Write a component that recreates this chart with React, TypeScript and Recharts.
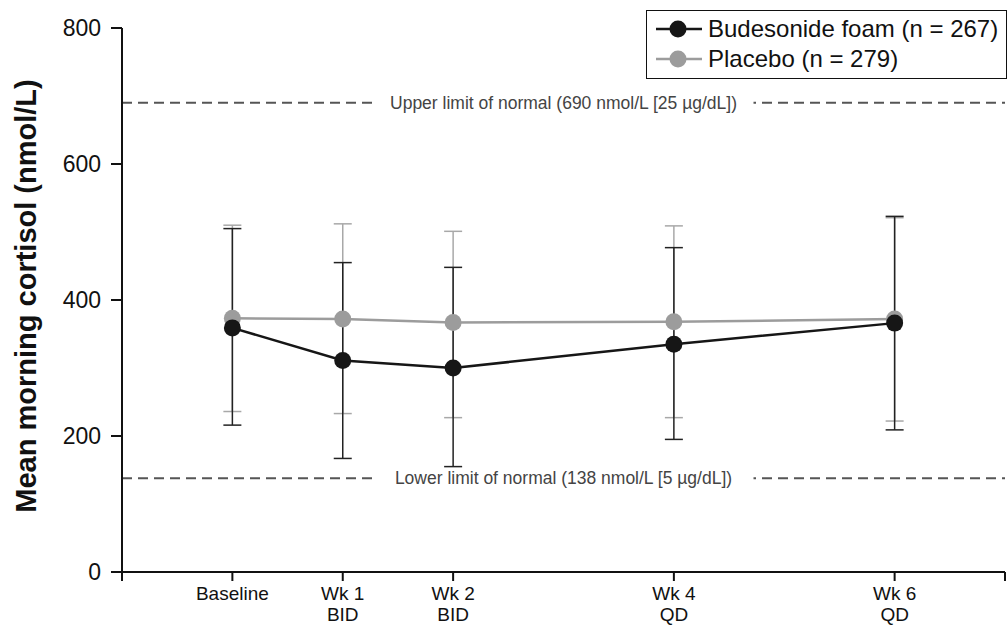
import { LineChart, Line, XAxis, YAxis, ReferenceLine, ErrorBar, Legend } from 'recharts';

const weeks = [0, 1, 2, 4, 6];
const weekLabels = ['Baseline', 'Wk 1', 'Wk 2', 'Wk 4', 'Wk 6'];
const doseLabels = ['', 'BID', 'BID', 'QD', 'QD'];

const budesonideMean = [359, 311, 300, 335, 366];
const budesonideUpper = [505, 455, 448, 477, 523];
const budesonideLower = [216, 167, 155, 195, 209];

const placeboMean = [373, 372, 367, 368, 372];
const placeboUpper = [510, 512, 501, 509, 521];
const placeboLower = [236, 233, 227, 227, 222];

const yTicks = [0, 200, 400, 600, 800];
const xTicks = [-1, 0, 1, 2, 4, 6, 7];

const upperLimit = 690;
const lowerLimit = 138;

const chartData = weeks.map((week, i) => ({
  week,
  budesonide: budesonideMean[i],
  budesonideErr: [budesonideMean[i] - budesonideLower[i], budesonideUpper[i] - budesonideMean[i]],
  placebo: placeboMean[i],
  placeboErr: [placeboMean[i] - placeboLower[i], placeboUpper[i] - placeboMean[i]],
}));

const FONT = '"Liberation Sans", Arial, sans-serif';

const XTick = ({ x, y, payload }: any) => {
  const idx = weeks.indexOf(payload.value);
  if (idx < 0) return null;
  return (
    <g>
      <text x={x} y={y + 17} textAnchor="middle" fontSize={19} fontFamily={FONT} fill="#111">
        {weekLabels[idx]}
      </text>
      {doseLabels[idx] && (
        <text x={x} y={y + 38} textAnchor="middle" fontSize={19} fontFamily={FONT} fill="#111">
          {doseLabels[idx]}
        </text>
      )}
    </g>
  );
};

const YLabel = ({ viewBox }: any) => {
  const cy = viewBox.y + viewBox.height / 2 - 4;
  return (
    <text
      x={26}
      y={cy}
      transform={`rotate(-90, 26, ${cy})`}
      textAnchor="middle"
      dominantBaseline="central"
      fontSize={29}
      fontWeight="bold"
      fontFamily={FONT}
      fill="#111"
    >
      Mean morning cortisol (nmol/L)
    </text>
  );
};

const LimitLabel = ({ viewBox, text }: any) => {
  const cx = viewBox.x + viewBox.width / 2;
  const cy = viewBox.y;
  return (
    <g>
      <rect x={cx - 190} y={cy - 11} width={380} height={22} fill="#fff" />
      <text x={cx} y={cy} textAnchor="middle" dominantBaseline="central" fontSize={17.5} fontFamily={FONT} fill="#444">
        {text}
      </text>
    </g>
  );
};

const legendItems = [
  { name: 'Budesonide foam (n = 267)', color: '#161616' },
  { name: 'Placebo (n = 279)', color: '#9c9c9c' },
];

const CustomLegend = () => (
  <div
    style={{
      border: '1.5px solid #111',
      padding: '3px 0 4px 9px',
      background: '#fff',
      fontFamily: FONT,
      fontSize: 24,
      color: '#111',
    }}
  >
    {legendItems.map((item) => (
      <div key={item.name} style={{ display: 'flex', alignItems: 'center', height: 30 }}>
        <svg width={46} height={20} style={{ marginRight: 6 }}>
          <line x1={0} y1={10} x2={46} y2={10} stroke={item.color} strokeWidth={2.5} />
          <circle cx={22} cy={10} r={8.5} fill={item.color} />
        </svg>
        <span>{item.name}</span>
      </div>
    ))}
  </div>
);

export default function App() {
  return (
    <div style={{ position: 'absolute', left: 0, top: 0, width: 1007, height: 633, background: '#fff' }}>
      <LineChart width={1007} height={633} data={chartData} margin={{ top: 28, right: 2, left: 0, bottom: 0 }}>
        <XAxis
          dataKey="week"
          type="number"
          domain={[-1, 7]}
          ticks={xTicks}
          interval={0}
          height={61}
          stroke="#111"
          strokeWidth={2}
          tickSize={9}
          tick={<XTick />}
        />
        <YAxis
          type="number"
          domain={[0, 800]}
          ticks={yTicks}
          width={122}
          stroke="#111"
          strokeWidth={2}
          tickSize={11}
          tickMargin={10}
          tick={{ fontSize: 23, fontFamily: FONT, fill: '#111' }}
          label={<YLabel />}
        />
        <ReferenceLine
          y={upperLimit}
          stroke="#555"
          strokeWidth={2}
          strokeDasharray="10 6"
          label={<LimitLabel text="Upper limit of normal (690 nmol/L [25 µg/dL])" />}
        />
        <ReferenceLine
          y={lowerLimit}
          stroke="#555"
          strokeWidth={2}
          strokeDasharray="10 6"
          label={<LimitLabel text="Lower limit of normal (138 nmol/L [5 µg/dL])" />}
        />
        <Line
          dataKey="placebo"
          stroke="#9c9c9c"
          strokeWidth={2.5}
          dot={{ r: 8.5, fill: '#9c9c9c', stroke: '#9c9c9c', strokeWidth: 0 }}
          activeDot={false}
          isAnimationActive={false}
        >
          <ErrorBar dataKey="placeboErr" direction="y" width={9} stroke="#a8a8a8" strokeWidth={1.5} isAnimationActive={false} />
        </Line>
        <Line
          dataKey="budesonide"
          stroke="#161616"
          strokeWidth={2.5}
          dot={{ r: 8.5, fill: '#161616', stroke: '#161616', strokeWidth: 0 }}
          activeDot={false}
          isAnimationActive={false}
        >
          <ErrorBar dataKey="budesonideErr" direction="y" width={9} stroke="#222" strokeWidth={1.5} isAnimationActive={false} />
        </Line>
        <Legend
          layout="vertical"
          align="center"
          verticalAlign="middle"
          content={() => <CustomLegend />}
          wrapperStyle={{ position: 'absolute', left: 646, top: 10, width: 361, height: 'auto' }}
        />
      </LineChart>
    </div>
  );
}
